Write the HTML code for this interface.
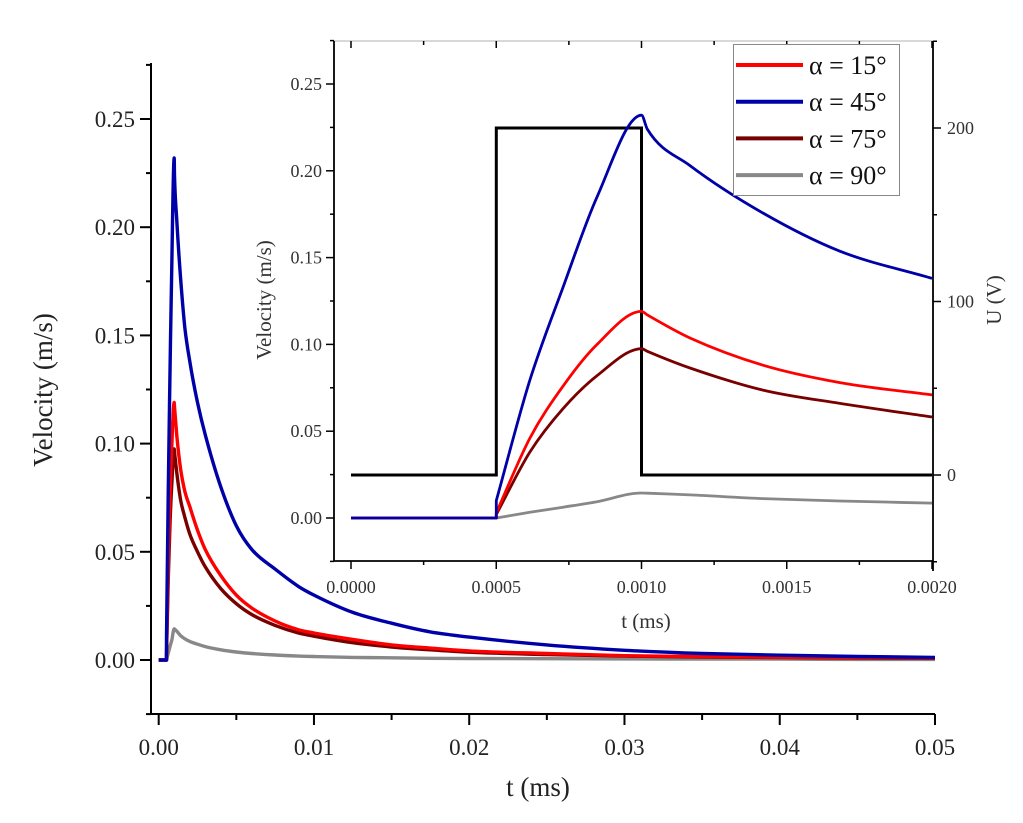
<!DOCTYPE html>
<html><head><meta charset="utf-8"><style>
html,body{margin:0;padding:0;background:#fff;}
svg{display:block;font-family:"Liberation Serif",serif;}
</style></head><body>
<svg id="chart" width="1023" height="823" viewBox="0 0 1023 823">
<g id="main"></g>
<g id="inset"></g>
</svg>
<script>
// ---- data ----
const tEarly = [0, 0.0005, 0.0005, 0.000616, 0.00073, 0.000847, 0.001, 0.00102, 0.001167, 0.001418, 0.001683, 0.002];
const blueEarly = [0, 0, 0.010, 0.0795, 0.133, 0.185, 0.232, 0.224, 0.203, 0.1757, 0.1537, 0.138];
const redEarly  = [0, 0, 0.003, 0.046, 0.076, 0.1000, 0.119, 0.117, 0.1037, 0.088, 0.078, 0.0709];
const darkEarly = [0, 0, 0.002, 0.038, 0.063, 0.0820, 0.0975, 0.096, 0.0864, 0.0737, 0.066, 0.0582];
const grayEarly = [0, 0, 0, 0.0033, 0.0062, 0.0094, 0.0144, 0.0143, 0.0133, 0.0112, 0.0098, 0.0086];
const tTail = [0.0025, 0.003, 0.004, 0.005, 0.006, 0.0075, 0.009, 0.01, 0.0125, 0.015, 0.0175, 0.02, 0.025, 0.03, 0.035, 0.04, 0.045, 0.05];
const blueTail = [0.119, 0.104, 0.080, 0.062, 0.051, 0.042, 0.034, 0.030, 0.022, 0.017, 0.013, 0.0106, 0.007, 0.0045, 0.003, 0.0022, 0.0016, 0.0012];
const redTail  = [0.060, 0.051, 0.039, 0.030, 0.024, 0.018, 0.014, 0.0125, 0.0095, 0.007, 0.0055, 0.0042, 0.003, 0.002, 0.0016, 0.0013, 0.0011, 0.001];
const darkTail = [0.050, 0.043, 0.033, 0.026, 0.021, 0.016, 0.0125, 0.011, 0.008, 0.006, 0.0047, 0.0036, 0.0025, 0.0018, 0.0014, 0.0011, 0.0009, 0.0008];
const grayTail = [0.0073, 0.0062, 0.0047, 0.0037, 0.003, 0.0023, 0.0018, 0.0016, 0.0012, 0.001, 0.0008, 0.0007, 0.0006, 0.0005, 0.0004, 0.0004, 0.0003, 0.0003];
const pulseT = [0, 0.0005, 0.0005, 0.001, 0.001, 0.002];
const pulseU = [0, 0, 200, 200, 0, 0];
const seriesNames = ["α = 15°", "α = 45°", "α = 75°", "α = 90°"];
const seriesColors = ["#ff0000", "#0000a8", "#7a0000", "#888888"];
const mainXTicks = ["0.00", "0.01", "0.02", "0.03", "0.04", "0.05"];
const mainYTicks = ["0.00", "0.05", "0.10", "0.15", "0.20", "0.25"];
const insetXTicks = ["0.0000", "0.0005", "0.0010", "0.0015", "0.0020"];
const insetUTicks = ["0", "100", "200"];

const NS = "http://www.w3.org/2000/svg";
function mk(parent, tag, attrs, text) {
  const e = document.createElementNS(NS, tag);
  for (const k in attrs) e.setAttribute(k, attrs[k]);
  if (text !== undefined) e.textContent = text;
  parent.appendChild(e);
  return e;
}
// monotone cubic path through pixel points; splits at vertical jumps
function smoothPath(px, py) {
  let d = "M" + px[0].toFixed(1) + "," + py[0].toFixed(1);
  let s = 0;
  const runs = [];
  for (let i = 1; i < px.length; i++) {
    if (px[i] - px[i - 1] < 0.01) { runs.push([s, i - 1]); s = i; }
  }
  runs.push([s, px.length - 1]);
  runs.forEach(([a, b], ri) => {
    if (ri > 0) d += " L" + px[a].toFixed(1) + "," + py[a].toFixed(1);
    const n = b - a;
    if (n < 1) return;
    const xs = px.slice(a, b + 1), ys = py.slice(a, b + 1);
    const dl = [], m = [];
    for (let i = 0; i < n; i++) dl.push((ys[i + 1] - ys[i]) / (xs[i + 1] - xs[i]));
    m[0] = dl[0]; m[n] = dl[n - 1];
    for (let i = 1; i < n; i++) m[i] = (dl[i - 1] * dl[i] <= 0) ? 0 : (dl[i - 1] + dl[i]) / 2;
    for (let i = 0; i < n; i++) {
      if (dl[i] === 0) { m[i] = 0; m[i + 1] = 0; continue; }
      const al = m[i] / dl[i], be = m[i + 1] / dl[i], h = al * al + be * be;
      if (h > 9) { const t = 3 / Math.sqrt(h); m[i] = t * al * dl[i]; m[i + 1] = t * be * dl[i]; }
    }
    for (let i = 0; i < n; i++) {
      const h = (xs[i + 1] - xs[i]) / 3;
      d += " C" + (xs[i] + h).toFixed(1) + "," + (ys[i] + m[i] * h).toFixed(1) + " " +
        (xs[i + 1] - h).toFixed(1) + "," + (ys[i + 1] - m[i + 1] * h).toFixed(1) + " " +
        xs[i + 1].toFixed(1) + "," + ys[i + 1].toFixed(1);
    }
  });
  return d;
}
const mainG = document.getElementById("main");
const insetG = document.getElementById("inset");

// main axes
const mx = t => 158.7 + t / 0.05 * (935 - 158.7);
const my = v => 660 - v * 2164;
const ax1 = mk(mainG, "path", {d: "M151,63 V714 H935", fill: "none", stroke: "#000", "stroke-width": 2});


for (let i = -1; i <= 11; i++) {
  const v = i * 0.025, y = my(v);
  const major = i >= 0 && i % 2 === 0 && i <= 10;
  mk(mainG, "line", {x1: major ? 140 : 146, x2: 151, y1: y, y2: y, stroke: "#000", "stroke-width": 2});
}
mainYTicks.forEach((lab) => {
  const tx = mk(mainG, "text", {x: 135, y: my(parseFloat(lab)) + 8, "text-anchor": "end", "font-size": 23, fill: "#222"}, lab);
  
  
});
for (let i = 0; i <= 10; i++) {
  const x = mx(i * 0.005);
  mk(mainG, "line", {x1: x, x2: x, y1: 714, y2: i % 2 === 0 ? 725 : 720, stroke: "#000", "stroke-width": 2});
}
mainXTicks.forEach(lab => {
  const tx = mk(mainG, "text", {x: mx(parseFloat(lab)), y: 755, "text-anchor": "middle", "font-size": 23, fill: "#222"}, lab);
  
  
});
const xt = mk(mainG, "text", {x: 538, y: 796, "text-anchor": "middle", "font-size": 27, fill: "#222"}, "t (ms)");


const yt = mk(mainG, "text", {x: 0, y: 0, transform: "translate(52,390) rotate(-90)", "text-anchor": "middle", "font-size": 27, fill: "#222"}, "Velocity (m/s)");



const allT = tEarly.concat(tTail);
const mainSeries = [redEarly.concat(redTail), blueEarly.concat(blueTail), darkEarly.concat(darkTail), grayEarly.concat(grayTail)];
const order = [3, 2, 0, 1];
order.forEach(si => {
  const vals = mainSeries[si];
  const d = smoothPath(allT.map(mx), vals.map(my));
  const p = mk(mainG, "path", {d, fill: "none", stroke: seriesColors[si], "stroke-width": 3.4, "stroke-linejoin": "round"});
  
  
});

// inset
const L = 334, R = 933, T = 41, B = 561;
const ix = t => 351 + t / 0.002 * (932 - 351);
const iy = v => 518 - v * 1736;
const iu = u => 475 - u * 1.735;
mk(insetG, "rect", {x: L, y: T, width: R - L, height: B - T, fill: "#fff", stroke: "none"});
mk(insetG, "line", {x1: L, x2: R, y1: T, y2: T, stroke: "#ccc", "stroke-width": 1.5});
const iax = mk(insetG, "path", {d: `M${L},${T} V${B} H${R} M${R},${T} V${B + 10}`, fill: "none", stroke: "#000", "stroke-width": 1.8});


for (let i = -1; i <= 11; i++) {
  const y = iy(i * 0.025);
  const major = i >= 0 && i % 2 === 0 && i <= 10;
  mk(insetG, "line", {x1: major ? L - 8 : L - 4, x2: L, y1: y, y2: y, stroke: "#000", "stroke-width": 1.5});
}
mainYTicks.forEach(lab => {
  const tx = mk(insetG, "text", {x: L - 12, y: iy(parseFloat(lab)) + 6, "text-anchor": "end", "font-size": 18, fill: "#333"}, lab);
  
  
});
for (let i = 0; i <= 8; i++) {
  const x = ix(i * 0.00025);
  const major = i % 2 === 0;
  mk(insetG, "line", {x1: x, x2: x, y1: B, y2: B + (major ? 8 : 4), stroke: "#000", "stroke-width": 1.5});
  mk(insetG, "line", {x1: x, x2: x, y1: T, y2: T + (major ? 7 : 4), stroke: "#000", "stroke-width": 1.5});
}
insetXTicks.forEach(lab => {
  const tx = mk(insetG, "text", {x: ix(parseFloat(lab)), y: 593, "text-anchor": "middle", "font-size": 18, fill: "#333"}, lab);
  
  
});
for (let i = -1; i <= 5; i++) {
  const y = iu(i * 50);
  mk(insetG, "line", {x1: R, x2: R + (i % 2 === 0 ? 8 : 4), y1: y, y2: y, stroke: "#000", "stroke-width": 1.5});
}
insetUTicks.forEach(lab => {
  const tx = mk(insetG, "text", {x: R + 14, y: iu(parseFloat(lab)) + 6, "text-anchor": "start", "font-size": 18, fill: "#333"}, lab);
  
  
});
const ixt = mk(insetG, "text", {x: 646, y: 628, "text-anchor": "middle", "font-size": 21, fill: "#333"}, "t (ms)");


const iyt = mk(insetG, "text", {x: 0, y: 0, transform: "translate(271,300) rotate(-90)", "text-anchor": "middle", "font-size": 21, fill: "#333"}, "Velocity (m/s)");


const iut = mk(insetG, "text", {x: 0, y: 0, transform: "translate(1001,300) rotate(-90)", "text-anchor": "middle", "font-size": 21, fill: "#333"}, "U (V)");



const pd = pulseT.map((t, i) => (i ? "L" : "M") + ix(t).toFixed(1) + "," + iu(pulseU[i]).toFixed(1)).join(" ");
const pp = mk(insetG, "path", {d: pd, fill: "none", stroke: "#000", "stroke-width": 3});


const insetSeries = [redEarly, blueEarly, darkEarly, grayEarly];
order.forEach(si => {
  const vals = insetSeries[si];
  const d = smoothPath(tEarly.map(ix), vals.map(iy));
  const p = mk(insetG, "path", {d, fill: "none", stroke: seriesColors[si], "stroke-width": 2.8, "stroke-linejoin": "round"});
  
  
});

// legend
const lg = mk(insetG, "g", {});


mk(lg, "rect", {x: 733.5, y: 44.5, width: 166, height: 151, fill: "#fff", stroke: "#888", "stroke-width": 1});
seriesNames.forEach((nm, i) => {
  const y = 65 + i * 36.7;
  const e = mk(lg, "g", {});
  
  
  mk(e, "line", {x1: 736, x2: 803, y1: y, y2: y, stroke: seriesColors[i], "stroke-width": 4});
  mk(e, "text", {x: 809, y: y + 9, "font-size": 26, fill: "#111"}, nm);
});
</script>
</body></html>
